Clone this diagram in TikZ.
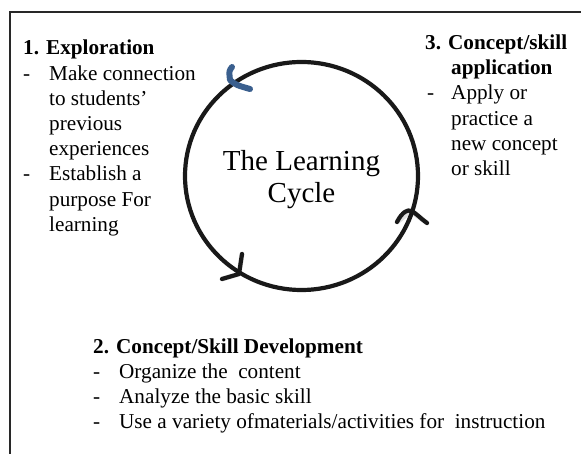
\documentclass[tikz,border=0pt]{standalone}
\usepackage{fontspec}
\setmainfont{Liberation Serif}
\usepackage{array}
\definecolor{arrowblue}{RGB}{58,95,142}
\definecolor{framegray}{RGB}{40,40,40}
\tikzset{
  txt/.style={inner sep=0pt, anchor=base west, font=\fontsize{21.2}{25.2}\selectfont},
  ttl/.style={inner sep=0pt, anchor=base, font=\fontsize{29}{32}\selectfont},
  ring/.style={line width=4.2pt, black!90},
  chev/.style={line width=4.2pt, black!90, line cap=round, line join=round},
  chevshadow/.style={line width=5pt, black, opacity=0.12, line cap=round, line join=round},
  bluechev/.style={line width=6pt, arrowblue, line cap=round, line join=round},
  frame/.style={line width=1.3pt, framegray}
}
\begin{document}
\begin{tikzpicture}[x=1pt,y=-1pt]
\useasboundingbox (0,0) rectangle (581,454);
% frame (top and left only)
\coordinate (ftr) at (581,12);
\coordinate (ftl) at (10,12);
\coordinate (fbl) at (10,454);
\draw[frame] (ftr) -- (ftl) -- (fbl);

% cycle ring
\coordinate (c) at (301.5,176);
\draw[ring] (c) ellipse [x radius=116.5, y radius=114];

% chevrons
\coordinate (bv) at (230,80);
\coordinate (ba) at (232,67);
\coordinate (bb) at (250,89);
\draw[bluechev] (ba) .. controls (229,71) .. (bv) .. controls (236,85) .. (bb);

\coordinate (rv) at (411,211);
\coordinate (ra) at (397,222);
\coordinate (rb) at (427,223);
\draw[chevshadow, shift={(2,3)}] (ra) -- (rv) -- (rb);
\draw[chev] (ra) .. controls (402,212) and (408,209) .. (rv) .. controls (415,212) and (420,218) .. (rb);

\coordinate (lv) at (239,274);
\coordinate (la) at (242,254);
\coordinate (lb) at (222,279);
\draw[chevshadow, shift={(2,3)}] (la) -- (lv) -- (lb);
\draw[chev] (la) -- (lv) -- (lb);

% title
\node[ttl] (title) at (301.5,171) {\begin{tabular}[t]{@{}c@{}}The Learning\\Cycle\end{tabular}};

% 1. Exploration
\node[txt] (explore) at (23,55) {\begin{tabular}[t]{@{}p{26pt}@{}l@{}}
\multicolumn{2}{@{}l@{}}{\textbf{1. Exploration}}\\
- & Make connection\\
  & to students’\\
  & previous\\
  & experiences\\
- & Establish a\\
  & purpose For\\
  & learning
\end{tabular}};

% 3. Concept/skill application
\node[txt] (apply) at (425,49.5) {\begin{tabular}[t]{@{}p{26pt}@{}l@{}}
\textbf{3.} & \hspace{-3pt}\textbf{Concept/skill}\\
  & \textbf{application}\\
\hspace{2pt}- & Apply or\\
  & practice a\\
  & new concept\\
  & or skill
\end{tabular}};

% 2. Concept/Skill Development
\node[txt] (develop) at (93,353) {\begin{tabular}[t]{@{}p{26pt}@{}l@{}}
\multicolumn{2}{@{}l@{}}{\textbf{2. Concept/Skill Development}}\\
- & Organize the\ \ content\\
- & Analyze the basic skill\\
- & Use a variety ofmaterials/activities for\ \ instruction
\end{tabular}};
\end{tikzpicture}
\end{document}
